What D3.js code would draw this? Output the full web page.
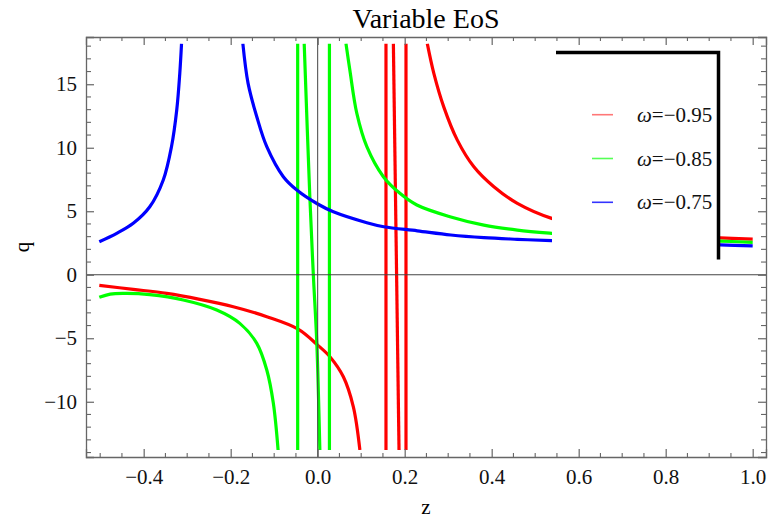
<!DOCTYPE html>
<html>
<head>
<meta charset="utf-8">
<script src="https://cdn.jsdelivr.net/npm/d3@7"></script>
<style>
  body { margin: 0; background: #fff; }
  svg { display: block; }
</style>
</head>
<body>
<div id="chart"></div>
<script>
// values, each series split into its visible branches: [z, q]
const redSegments = [
  [[-0.502, -0.84], [-0.424, -1.15], [-0.347, -1.47], [-0.271, -1.94], [-0.194, -2.52],
   [-0.117, -3.3], [-0.045, -4.28], [0, -5.54], [0.028, -6.45], [0.059, -8.03],
   [0.082, -10.4], [0.097, -13.8]],
  [[0.157, -13.8], [0.157, 18.2]],
  [[0.174, 18.2], [0.187, -13.8]],
  [[0.203, -13.8], [0.203, 18.2]],
  [[0.252, 18.2], [0.267, 15.86], [0.290, 13.2], [0.321, 10.6], [0.359, 8.5],
   [0.405, 6.93], [0.459, 5.62], [0.538, 4.44], [0.65, 3.6], [0.8, 3.15],
   [0.926, 2.91], [1.0, 2.81]]
];
const greenSegments = [
  [[-0.502, -1.78], [-0.477, -1.52], [-0.439, -1.47], [-0.386, -1.57], [-0.309, -1.99],
   [-0.232, -2.78], [-0.179, -3.83], [-0.140, -5.4], [-0.117, -7.5], [-0.102, -10.1],
   [-0.091, -13.8]],
  [[-0.046, -13.8], [-0.046, 18.2]],
  [[-0.031, 18.2], [-0.018, 6.1], [-0.010, 0], [-0.002, -5.4], [0.005, -13.8]],
  [[0.027, -13.8], [0.027, 18.2]],
  [[0.065, 18.2], [0.074, 16.1], [0.090, 12.7], [0.113, 10.08], [0.151, 7.72],
   [0.189, 6.41], [0.228, 5.49], [0.304, 4.57], [0.382, 3.91], [0.459, 3.52],
   [0.538, 3.26], [0.65, 2.98], [0.8, 2.75], [0.926, 2.65], [1.0, 2.55]]
];
const blueSegments = [
  [[-0.502, 2.6], [-0.462, 3.26], [-0.424, 4.05], [-0.386, 5.35], [-0.355, 7.46],
   [-0.336, 10.1], [-0.324, 12.97], [-0.317, 15.86], [-0.313, 18.2]],
  [[-0.172, 18.2], [-0.160, 15.07], [-0.140, 12.44], [-0.117, 10.08], [-0.079, 7.72],
   [-0.048, 6.67], [0, 5.57], [0.036, 4.96], [0.113, 4.1], [0.152, 3.78],
   [0.229, 3.46], [0.306, 3.13], [0.382, 2.92], [0.459, 2.79], [0.538, 2.68],
   [0.65, 2.55], [0.8, 2.42], [0.926, 2.36], [1.0, 2.28]]
];
const seriesLabels = ["−0.95", "−0.85", "−0.75"];
const seriesColors = ["#ff0000", "#00ff00", "#0000ff"];
const legendColors = ["#ff7777", "#55ff55", "#3333ff"];

const xTicks = [-0.4, -0.2, 0.0, 0.2, 0.4, 0.6, 0.8, 1.0];
const yTicks = [-10, -5, 0, 5, 10, 15];
const xDomain = [-0.5326, 1.0306];
const yDomain = [-14.35, 18.72];
const qClip = [-13.8, 18.2];

const width = 768;
const height = 519;
const margin = {top: 37, right: 2, bottom: 62, left: 86};
const font = "Liberation Serif";
const frameColor = "#666";

const x = d3.scaleLinear().domain(xDomain).range([margin.left, width - margin.right]);
const y = d3.scaleLinear().domain(yDomain).range([height - margin.bottom, margin.top]);

const svg = d3.select("#chart")
  .append("svg")
    .attr("width", width)
    .attr("height", height);

svg.append("defs").append("clipPath")
    .attr("id", "plot-clip")
  .append("rect")
    .attr("x", x(xDomain[0]))
    .attr("y", y(qClip[1]))
    .attr("width", x(xDomain[1]) - x(xDomain[0]))
    .attr("height", y(qClip[0]) - y(qClip[1]));

// curves
const line = d3.line()
  .x(d => x(d[0]))
  .y(d => y(d[1]))
  .curve(d3.curveCatmullRom.alpha(0.5));
const straight = d3.line()
  .x(d => x(d[0]))
  .y(d => y(d[1]));

const curves = svg.append("g").attr("clip-path", "url(#plot-clip)");
[redSegments, greenSegments, blueSegments].forEach((segs, i) => {
  curves.selectAll(null)
    .data(segs)
    .join("path")
      .attr("fill", "none")
      .attr("stroke", seriesColors[i])
      .attr("stroke-width", 3.2)
      .attr("d", d => d.length > 2 ? line(d) : straight(d));
});

// axes through the origin
svg.append("line")
    .attr("x1", x(xDomain[0])).attr("x2", x(xDomain[1]))
    .attr("y1", y(0)).attr("y2", y(0))
    .attr("stroke", "#444").attr("stroke-width", 1);
svg.append("line")
    .attr("x1", x(0)).attr("x2", x(0))
    .attr("y1", y(yDomain[0])).attr("y2", y(yDomain[1]))
    .attr("stroke", "#444").attr("stroke-width", 1);

// frame with inward ticks on all four sides
const xMinor = d3.range(-0.5, 1.0001, 0.05).map(v => +v.toFixed(2));
const yMinor = d3.range(-14, 19, 1);
const fmtX = d => d3.format(".1f")(d).replace("-", "−");
const fmtY = d => d3.format("d")(d).replace("-", "−");

const bottomAxis = d3.axisBottom(x).tickValues(xTicks).tickFormat(fmtX).tickSize(-8).tickPadding(12);
const topAxis = d3.axisTop(x).tickValues(xTicks).tickFormat("").tickSize(-8);
const leftAxis = d3.axisLeft(y).tickValues(yTicks).tickFormat(fmtY).tickSize(-8).tickPadding(9);
const rightAxis = d3.axisRight(y).tickValues(yTicks).tickFormat("").tickSize(-8);

const styleAxis = g => {
  g.attr("font-family", font).attr("font-size", 21);
  g.select(".domain").attr("stroke", frameColor).attr("stroke-width", 1.3);
  g.selectAll(".tick line").attr("stroke", frameColor).attr("stroke-width", 1.2);
  g.selectAll(".tick text").attr("fill", "#111").attr("font-family", font).attr("font-size", 21);
};

svg.append("g").attr("transform", `translate(0,${height - margin.bottom})`).call(bottomAxis).call(styleAxis);
svg.append("g").attr("transform", `translate(0,${margin.top})`).call(topAxis).call(styleAxis);
svg.append("g").attr("transform", `translate(${margin.left},0)`).call(leftAxis).call(styleAxis);
svg.append("g").attr("transform", `translate(${width - margin.right},0)`).call(rightAxis).call(styleAxis);

// minor ticks
const minor = svg.append("g").attr("stroke", frameColor).attr("stroke-width", 1.1);
xMinor.filter(v => !xTicks.some(t => Math.abs(t - v) < 1e-6)).forEach(v => {
  minor.append("line").attr("x1", x(v)).attr("x2", x(v)).attr("y1", y(yDomain[0])).attr("y2", y(yDomain[0]) - 4);
  minor.append("line").attr("x1", x(v)).attr("x2", x(v)).attr("y1", y(yDomain[1])).attr("y2", y(yDomain[1]) + 4);
});
yMinor.filter(v => !yTicks.includes(v)).forEach(v => {
  minor.append("line").attr("y1", y(v)).attr("y2", y(v)).attr("x1", x(xDomain[0])).attr("x2", x(xDomain[0]) + 5);
  minor.append("line").attr("y1", y(v)).attr("y2", y(v)).attr("x1", x(xDomain[1])).attr("x2", x(xDomain[1]) - 5);
});

// title and axis labels
svg.append("text")
    .attr("x", (x(xDomain[0]) + x(xDomain[1])) / 2)
    .attr("y", 28)
    .attr("text-anchor", "middle")
    .attr("font-family", font)
    .attr("font-size", 28)
    .text("Variable EoS");
svg.append("text")
    .attr("x", (x(xDomain[0]) + x(xDomain[1])) / 2)
    .attr("y", 514)
    .attr("text-anchor", "middle")
    .attr("font-family", font)
    .attr("font-size", 21)
    .text("z");
svg.append("text")
    .attr("transform", `translate(29,${(y(yDomain[0]) + y(yDomain[1])) / 2}) rotate(-90)`)
    .attr("text-anchor", "middle")
    .attr("font-family", font)
    .attr("font-size", 21)
    .text("q");

// legend: white panel covering the curves, with a black edge on top and right
const legend = svg.append("g");
legend.append("rect")
    .attr("x", 552).attr("y", 51)
    .attr("width", 166).attr("height", 208)
    .attr("fill", "#fff");
legend.append("path")
    .attr("d", "M556,52.5H718.5V259.5")
    .attr("fill", "none")
    .attr("stroke", "#000")
    .attr("stroke-width", 3.5)
    .attr("stroke-linejoin", "miter");

const items = legend.selectAll("g.item")
  .data(seriesLabels)
  .join("g")
    .attr("class", "item")
    .attr("transform", (d, i) => `translate(0,${114.7 + i * 43.8})`);
items.append("line")
    .attr("x1", 592).attr("x2", 613)
    .attr("stroke", (d, i) => legendColors[i])
    .attr("stroke-width", 1.6);
const lt = items.append("text")
    .attr("x", 637)
    .attr("y", 7)
    .attr("font-family", font)
    .attr("font-size", 21)
    .attr("fill", "#111");
lt.append("tspan").attr("font-style", "italic").text("ω");
lt.append("tspan").text(d => "=" + d);
</script>
</body>
</html>
